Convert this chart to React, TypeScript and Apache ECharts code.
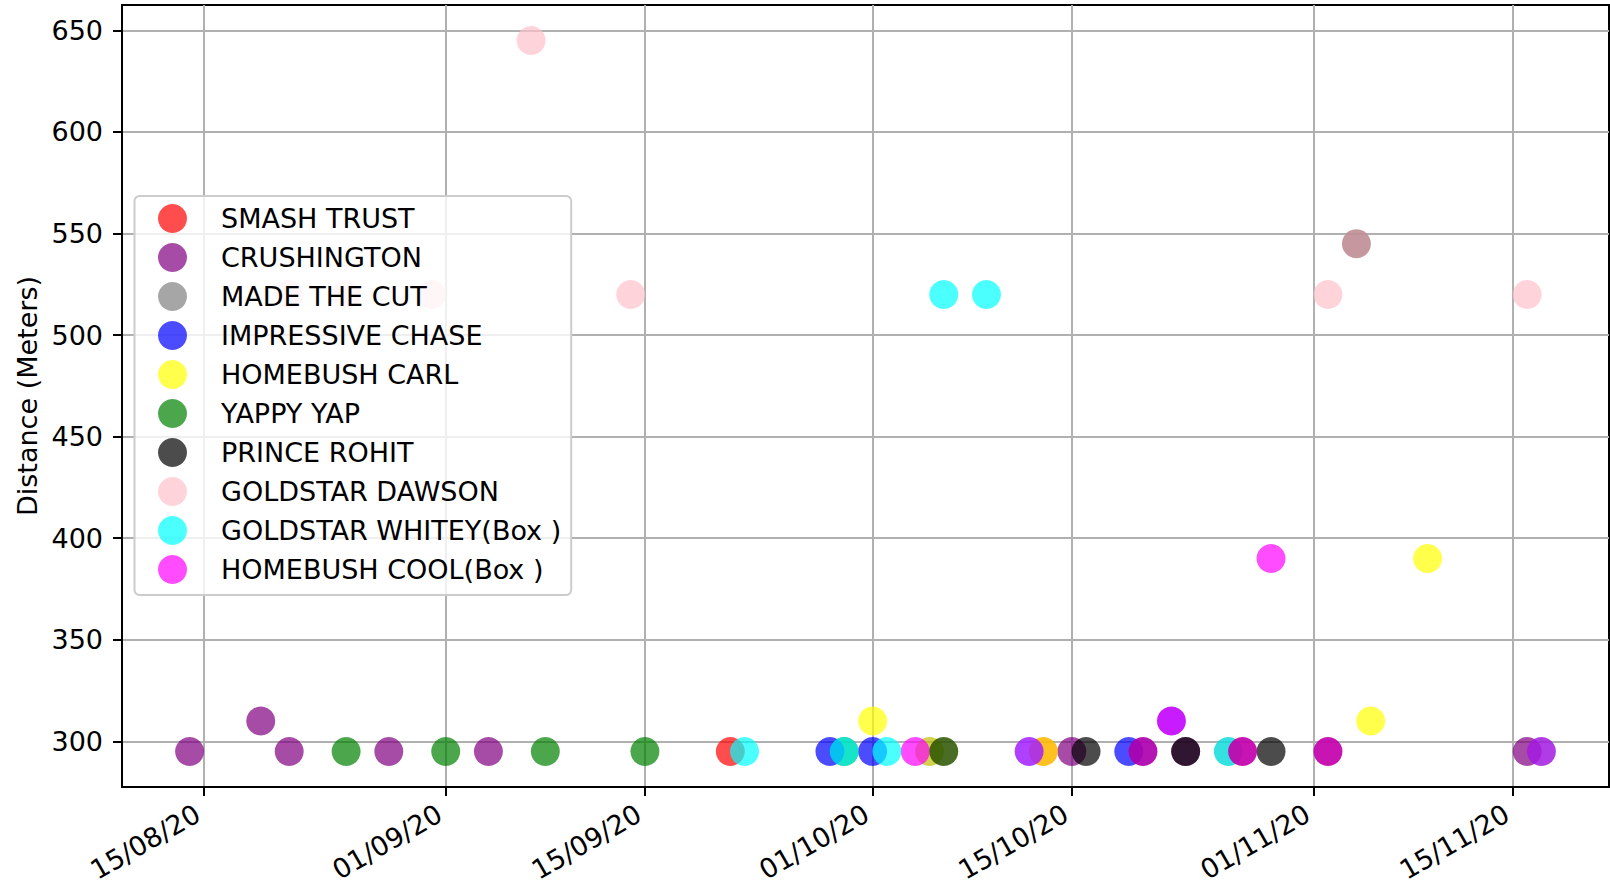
import React, { useEffect, useRef } from 'react';
import * as echarts from 'echarts';

type Pt = [string, number];

// ---- data (date, distance in meters) ----
const SMASH_TRUST: Pt[] = [['2020-09-21', 295]];
const CRUSHINGTON: Pt[] = [
  ['2020-08-14', 295], ['2020-08-19', 310], ['2020-08-21', 295], ['2020-08-28', 295],
  ['2020-09-04', 295], ['2020-10-15', 295], ['2020-10-23', 295], ['2020-11-16', 295],
];
const MADE_THE_CUT: Pt[] = [['2020-11-04', 545]];
const IMPRESSIVE_CHASE: Pt[] = [['2020-09-28', 295], ['2020-10-01', 295], ['2020-10-19', 295]];
const HOMEBUSH_CARL: Pt[] = [['2020-10-01', 310], ['2020-11-05', 310], ['2020-11-09', 390]];
const YAPPY_YAP: Pt[] = [
  ['2020-08-25', 295], ['2020-09-01', 295], ['2020-09-08', 295], ['2020-09-15', 295], ['2020-09-29', 295],
];
const PRINCE_ROHIT: Pt[] = [['2020-10-16', 295], ['2020-10-23', 295], ['2020-10-29', 295]];
const GOLDSTAR_DAWSON: Pt[] = [
  ['2020-08-21', 520], ['2020-08-25', 520], ['2020-08-31', 520], ['2020-09-07', 645],
  ['2020-09-14', 520], ['2020-11-02', 520], ['2020-11-16', 520],
];
const GOLDSTAR_WHITEY: Pt[] = [
  ['2020-09-22', 295], ['2020-09-29', 295], ['2020-10-02', 295], ['2020-10-06', 520], ['2020-10-09', 520],
];
const HOMEBUSH_COOL: Pt[] = [['2020-10-04', 295], ['2020-10-29', 390]];
// runners not listed in the legend
const OTHERS_BACK: Pt[] = [['2020-10-05', 295], ['2020-10-13', 295], ['2020-10-26', 295]];
const OTHERS_FRONT: Pt[] = [
  ['2020-10-06', 295], ['2020-10-12', 295], ['2020-10-20', 295], ['2020-10-22', 310],
  ['2020-10-27', 295], ['2020-11-02', 295], ['2020-11-17', 295],
];

const X_TICKS = ['2020-08-15', '2020-09-01', '2020-09-15', '2020-10-01', '2020-10-15', '2020-11-01', '2020-11-15'];
const Y_TICKS = [300, 350, 400, 450, 500, 550, 600, 650];
const X_MIN = '2020-08-09T06:00';
const X_MAX = '2020-11-21T18:00';
const Y_MIN = 277.5;
const Y_MAX = 662.5;

// ---- styles ----
const COLORS: Record<string, string> = {
  'SMASH TRUST': 'rgba(255,0,0,0.7)',
  CRUSHINGTON: 'rgba(128,0,128,0.7)',
  'MADE THE CUT': 'rgba(128,128,128,0.7)',
  'IMPRESSIVE CHASE': 'rgba(0,0,255,0.7)',
  'HOMEBUSH CARL': 'rgba(255,255,0,0.7)',
  'YAPPY YAP': 'rgba(0,128,0,0.7)',
  'PRINCE ROHIT': 'rgba(0,0,0,0.7)',
  'GOLDSTAR DAWSON': 'rgba(255,192,203,0.7)',
  'GOLDSTAR WHITEY(Box )': 'rgba(0,255,255,0.7)',
  'HOMEBUSH COOL(Box )': 'rgba(255,0,255,0.7)',
};
const MADE_THE_CUT_POINT_COLORS = ['rgba(191,143,150,0.92)'];
const OTHERS_BACK_COLORS = ['rgba(191,191,0,0.7)', 'rgba(255,184,0,0.88)', 'rgba(15,220,220,0.85)'];
const OTHERS_FRONT_COLORS = [
  'rgba(42,84,0,0.85)', 'rgba(162,30,255,0.85)', 'rgba(173,0,173,0.92)', 'rgba(195,8,255,0.92)',
  'rgba(195,0,173,0.92)', 'rgba(195,0,173,0.92)', 'rgba(162,26,225,0.85)',
];

const LEGEND_ORDER = [
  'SMASH TRUST', 'CRUSHINGTON', 'MADE THE CUT', 'IMPRESSIVE CHASE', 'HOMEBUSH CARL',
  'YAPPY YAP', 'PRINCE ROHIT', 'GOLDSTAR DAWSON', 'GOLDSTAR WHITEY(Box )', 'HOMEBUSH COOL(Box )',
];

const FONT = 'DejaVu Sans';
const FS = 27;

function ts(s: string): number {
  const [d, t] = s.split('T');
  const [y, m, dd] = d.split('-').map(Number);
  let h = 0;
  let mi = 0;
  if (t) {
    const parts = t.split(':').map(Number);
    h = parts[0];
    mi = parts[1] || 0;
  }
  return Date.UTC(y, m - 1, dd, h, mi);
}

function pad2(n: number) {
  return n < 10 ? '0' + n : String(n);
}

function fmtDate(v: number) {
  const d = new Date(v);
  return pad2(d.getUTCDate()) + '/' + pad2(d.getUTCMonth() + 1) + '/' + String(d.getUTCFullYear()).slice(2);
}

function mkSeries(name: string, pts: Pt[], color: string, pointColors?: string[]) {
  return {
    type: 'scatter',
    name,
    symbol: 'circle',
    symbolSize: 29,
    itemStyle: { color, opacity: 1 },
    emphasis: { disabled: true },
    data: pts.map((p, i) => {
      const item: any = { value: [ts(p[0]), p[1]] };
      if (pointColors && pointColors[i]) item.itemStyle = { color: pointColors[i], opacity: 1 };
      return item;
    }),
  };
}

export default function App() {
  const ref = useRef<HTMLDivElement>(null);
  useEffect(() => {
    const chart = echarts.init(ref.current!, null, { renderer: 'svg' });
    const xTicks = X_TICKS.map(ts);
    const series = [
      mkSeries('YAPPY YAP', YAPPY_YAP, COLORS['YAPPY YAP']),
      mkSeries('CRUSHINGTON', CRUSHINGTON, COLORS['CRUSHINGTON']),
      mkSeries('IMPRESSIVE CHASE', IMPRESSIVE_CHASE, COLORS['IMPRESSIVE CHASE']),
      mkSeries('SMASH TRUST', SMASH_TRUST, COLORS['SMASH TRUST']),
      mkSeries('MADE THE CUT', MADE_THE_CUT, COLORS['MADE THE CUT'], MADE_THE_CUT_POINT_COLORS),
      mkSeries('GOLDSTAR DAWSON', GOLDSTAR_DAWSON, COLORS['GOLDSTAR DAWSON']),
      mkSeries('others-back', OTHERS_BACK, 'rgba(191,191,0,0.7)', OTHERS_BACK_COLORS),
      mkSeries('HOMEBUSH COOL(Box )', HOMEBUSH_COOL, COLORS['HOMEBUSH COOL(Box )']),
      mkSeries('PRINCE ROHIT', PRINCE_ROHIT, COLORS['PRINCE ROHIT']),
      mkSeries('others-front', OTHERS_FRONT, 'rgba(162,30,255,0.85)', OTHERS_FRONT_COLORS),
      mkSeries('GOLDSTAR WHITEY(Box )', GOLDSTAR_WHITEY, COLORS['GOLDSTAR WHITEY(Box )']),
      mkSeries('HOMEBUSH CARL', HOMEBUSH_CARL, COLORS['HOMEBUSH CARL']),
    ];
    chart.setOption({
      animation: false,
      backgroundColor: '#ffffff',
      grid: {
        left: 122,
        right: 1,
        top: 5,
        bottom: 101,
        show: true,
        borderColor: '#000',
        borderWidth: 2,
        containLabel: false,
        outerBoundsMode: 'none',
      },
      legend: {
        data: LEGEND_ORDER,
        orient: 'vertical',
        left: 134.5,
        top: 196,
        padding: [8, 10, 11, 23.5],
        itemWidth: 29,
        itemHeight: 29,
        itemGap: 10,
        icon: 'circle',
        selectedMode: false,
        backgroundColor: 'rgba(255,255,255,0.8)',
        borderColor: '#cccccc',
        borderWidth: 2,
        borderRadius: 5,
        textStyle: { fontFamily: FONT, fontSize: FS, color: '#000', padding: [0, 0, 0, 29] },
      },
      xAxis: {
        type: 'value',
        scale: true,
        min: ts(X_MIN),
        max: ts(X_MAX),
        axisLine: { show: true, lineStyle: { color: '#000', width: 2 } },
        axisTick: { show: true, inside: false, length: 9, customValues: xTicks, lineStyle: { color: '#000', width: 2 } },
        axisLabel: {
          customValues: xTicks,
          formatter: (v: number) => fmtDate(v),
          rotate: 30,
          margin: 21,
          padding: [0, 7, 0, 0],
          fontFamily: FONT,
          fontSize: FS,
          color: '#000',
        },
        splitLine: { show: true, lineStyle: { color: '#b0b0b0', width: 2 } },
      },
      yAxis: {
        type: 'value',
        min: Y_MIN,
        max: Y_MAX,
        name: 'Distance (Meters)',
        nameLocation: 'middle',
        nameGap: 80,
        nameTextStyle: { fontFamily: FONT, fontSize: FS, color: '#000' },
        axisLine: { show: true, lineStyle: { color: '#000', width: 2 } },
        axisTick: { show: true, inside: false, length: 9, customValues: Y_TICKS, lineStyle: { color: '#000', width: 2 } },
        axisLabel: { customValues: Y_TICKS, margin: 19, fontFamily: FONT, fontSize: FS, color: '#000' },
        splitLine: { show: true, lineStyle: { color: '#b0b0b0', width: 2 } },
      },
      series,
    });
    return () => chart.dispose();
  }, []);
  return (
    <div
      ref={ref}
      style={{ position: 'fixed', left: 0, top: 0, width: 1610, height: 888, background: '#fff' }}
    />
  );
}
